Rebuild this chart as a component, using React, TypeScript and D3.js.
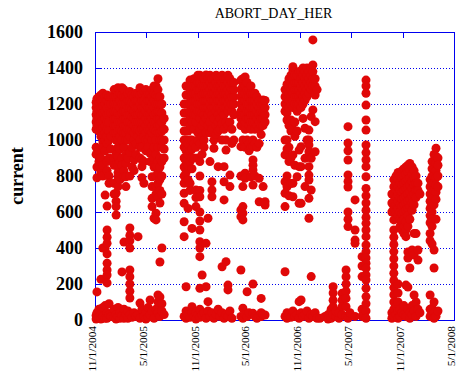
import React from "react";
import * as d3 from "d3";

// ---- data: [day offset from 11/1/2004, values...] columns ----
const run2004: [number, number[]][] = [
  [4, [1060, 1100, 1140, 1180, 1210, 960, 920, 25, 5]],
  [7, [1080, 1120, 1160, 1200, 1230, 850, 790, 156, 40, 10]],
  [14, [1050, 1090, 1130, 1170, 1210, 1240, 940, 880, 60, 15]],
  [21, [1020, 1060, 1100, 1140, 1180, 1220, 1250, 900, 820, 226, 30, 5]],
  [28, [990, 1030, 1070, 1110, 1150, 1190, 1230, 1260, 960, 860, 800, 400, 70, 20]],
  [36, [1000, 1040, 1080, 1120, 1160, 1200, 1240, 940, 694, 398, 80, 10]],
  [43, [980, 1020, 1060, 1100, 1140, 1180, 1220, 1250, 880, 830, 633, 500, 460, 426, 367, 315, 278, 250, 206, 40, 10]],
  [50, [1000, 1050, 1100, 1150, 1200, 1240, 900, 800, 760, 90, 30]],
  [57, [1150, 1200, 1240, 1020, 950, 20]],
  [68, [1040, 1080, 1120, 1160, 1200, 1240, 1280, 900, 860, 760, 700, 60, 15]],
  [75, [1000, 1040, 1080, 1120, 1160, 1200, 1240, 1280, 920, 860, 704, 660, 630, 583, 30, 5]],
  [82, [960, 1000, 1050, 1100, 1150, 1200, 1250, 1290, 907, 860, 820, 796, 741, 70, 20]],
  [89, [1020, 1060, 1100, 1140, 1180, 1220, 1260, 950, 880, 780, 10, 40]],
  [96, [1000, 1050, 1100, 1150, 1200, 1250, 1290, 900, 860, 267, 25]],
  [103, [1040, 1080, 1120, 1160, 1200, 1240, 1280, 960, 830, 796, 433, 60, 10]],
  [110, [1000, 1040, 1080, 1120, 1160, 1200, 1240, 917, 870, 796, 741, 30]],
  [117, [1060, 1100, 1140, 1180, 1220, 1260, 1000, 900, 50, 10]],
  [124, [1020, 1060, 1100, 1140, 1180, 1220, 1270, 930, 800, 511, 470, 440, 400, 278, 240, 200, 160, 122, 30]],
  [132, [1050, 1090, 1130, 1170, 1210, 1250, 960, 850, 15]],
  [139, [1000, 1040, 1080, 1120, 1160, 1200, 1240, 889, 830, 40]],
  [146, [1060, 1100, 1140, 1180, 1220, 1260, 980, 920, 20]],
  [153, [1020, 1060, 1100, 1140, 1180, 1220, 1260, 463, 30]],
  [160, [1000, 1050, 1100, 1150, 1200, 1250, 1290, 960, 900, 94, 10]],
  [167, [1060, 1100, 1140, 1180, 1220, 1260, 960, 889, 852, 790, 60]],
  [174, [1020, 1060, 1100, 1140, 1180, 1220, 1270, 880, 760, 20]],
  [181, [1040, 1080, 1120, 1160, 1200, 1240, 1280, 1000, 940, 40, 5]],
  [189, [1060, 1100, 1140, 1180, 1220, 1260, 1000, 960, 70, 15]],
  [196, [1020, 1060, 1100, 1140, 1180, 1220, 1260, 926, 880, 111, 30]],
  [203, [1000, 1040, 1080, 1120, 1160, 1200, 1240, 1280, 796, 741, 676, 630, 50]],
  [210, [1060, 1100, 1140, 1180, 1220, 1260, 1300, 960, 900, 850, 565, 10]],
  [217, [1000, 1050, 1100, 1150, 1200, 1250, 1300, 920, 860, 800, 740, 700, 593, 556, 60]],
  [224, [1040, 1080, 1120, 1160, 1200, 1240, 1280, 1340, 960, 880, 820, 760, 680, 139, 100, 40]],
  [231, [1000, 1040, 1080, 1120, 1160, 1200, 1240, 900, 850, 780, 720, 650, 322, 128, 20]],
  [238, [960, 1000, 1050, 1100, 1150, 1200, 880, 800, 700, 400, 90, 50]],
  [246, [900, 950, 1000, 1060, 1120, 30]],
];

const run2005: [number, number[]][] = [
  [317, [960, 1000, 1050, 1100, 1150, 1200, 900, 850, 800, 760, 704, 648, 546, 463, 20]],
  [324, [1000, 1050, 1100, 1150, 1200, 1250, 1300, 940, 880, 820, 185, 50, 10]],
  [331, [1050, 1100, 1150, 1200, 1250, 1300, 980, 920, 860, 780, 620, 30]],
  [338, [1080, 1120, 1160, 1200, 1240, 1280, 1333, 1000, 940, 880, 760, 720, 15]],
  [345, [1100, 1150, 1200, 1250, 1300, 1000, 950, 900, 840, 509, 74, 40]],
  [352, [1140, 1180, 1220, 1260, 1300, 1340, 1060, 980, 900, 20]],
  [359, [1100, 1140, 1180, 1220, 1260, 1300, 1340, 960, 722, 680, 630, 40, 5]],
  [366, [1160, 1200, 1240, 1280, 1320, 1360, 1040, 1000, 900, 30]],
  [373, [1120, 1160, 1200, 1240, 1280, 1320, 1360, 1060, 980, 880, 800, 720, 685, 600, 550, 500, 435, 400, 352, 176, 60, 15]],
  [381, [1150, 1200, 1250, 1300, 1350, 1080, 1020, 920, 250, 30]],
  [388, [1140, 1180, 1220, 1260, 1300, 1340, 1100, 1000, 960, 40]],
  [395, [1180, 1220, 1260, 1300, 1361, 1120, 1040, 426, 185, 10]],
  [402, [1140, 1180, 1220, 1260, 1300, 1340, 1080, 565, 102, 50]],
  [409, [1160, 1200, 1240, 1280, 1320, 1360, 1100, 1040, 880, 20]],
  [416, [1140, 1180, 1220, 1260, 1300, 1340, 1060, 768, 722, 685, 40]],
  [423, [1180, 1220, 1260, 1300, 1340, 1120, 1000, 954, 10]],
  [431, [1160, 1200, 1240, 1280, 1320, 1360, 1080, 1030, 30]],
  [438, [1140, 1180, 1220, 1260, 1300, 1340, 1100, 1050, 852, 60]],
  [445, [1180, 1220, 1260, 1300, 1340, 1120, 1060, 20]],
  [452, [1160, 1200, 1240, 1280, 1320, 1360, 1090, 1000, 296, 40]],
  [459, [1140, 1180, 1220, 1260, 1300, 1340, 1060, 852, 768, 667, 10]],
  [466, [1180, 1220, 1260, 1300, 1340, 1100, 1000, 944, 324, 30]],
  [473, [1160, 1200, 1240, 1280, 1320, 1360, 1080, 194, 167, 20]],
  [480, [1180, 1220, 1260, 1300, 1340, 1100, 805, 741, 50]],
  [487, [1160, 1200, 1240, 1280, 1320, 1060, 981, 10]],
  [494, [1200, 1240, 1280, 1320, 1140, 1000]],
  [519, [1080, 1120, 1160, 1200, 1240, 1280, 1333, 963, 800, 611, 574, 278, 20]],
  [526, [1100, 1140, 1180, 1220, 1260, 1300, 1340, 1000, 741, 630, 593, 556, 65, 10]],
  [534, [1060, 1100, 1140, 1180, 1220, 1260, 1300, 1350, 960, 815, 787, 30]],
  [541, [1120, 1160, 1200, 1240, 1280, 1320, 1000, 157, 19]],
  [548, [1080, 1120, 1160, 1200, 1240, 1280, 980, 940, 40]],
  [555, [1060, 1100, 1140, 1180, 1220, 1260, 1300, 960, 796]],
  [562, [1100, 1140, 1180, 1220, 1260, 1000, 963, 889, 860, 833, 750, 200, 37]],
  [569, [1060, 1100, 1140, 1180, 1220, 1260, 980, 800, 20]],
  [576, [1080, 1120, 1160, 1200, 1240, 960, 10]],
  [584, [1100, 1140, 1180, 1220, 1060, 980, 787, 657]],
  [591, [1080, 1120, 1160, 1200, 1030, 120, 19, 40]],
  [598, [1120, 1160, 1200, 1222, 1080, 741, 30]],
  [605, [1140, 1180, 1220, 1100, 657, 639, 28]],
];

const run2006: [number, number[]][] = [
  [676, [1160, 1200, 1240, 1280, 1000, 917, 768, 704, 630, 268, 20]],
  [683, [1150, 1190, 1230, 1270, 1310, 1111, 1000, 950, 800, 740, 40, 10]],
  [690, [1180, 1220, 1260, 1300, 1340, 1080, 960, 880, 690, 30]],
  [697, [1200, 1240, 1280, 1320, 1360, 1111, 1050, 900, 759, 15]],
  [704, [1180, 1220, 1260, 1300, 1340, 1389, 1407, 1060, 917, 760, 685, 50]],
  [711, [1200, 1240, 1280, 1320, 1360, 1100, 1020, 860, 20]],
  [719, [1160, 1200, 1240, 1280, 1320, 1360, 1050, 796, 30]],
  [726, [1200, 1240, 1280, 1320, 1380, 944, 852, 648, 102, 10]],
  [733, [1180, 1220, 1260, 1300, 1340, 1380, 963, 852, 648, 111, 40]],
  [740, [1200, 1240, 1280, 1320, 1360, 1400, 1120, 20]],
  [747, [1220, 1260, 1300, 1340, 1380, 1065, 898, 741, 30]],
  [754, [1240, 1280, 1320, 1360, 1400, 1000, 50]],
  [761, [1260, 1300, 1340, 1380, 1055, 1000, 972, 935, 852, 805, 778, 676, 565, 10]],
  [769, [1280, 1320, 1360, 1400, 1130, 898, 722, 241, 30]],
  [775, [1300, 1340, 1380, 1417, 1556, 1167, 20]],
  [783, [1250, 1300, 1340, 1102, 935, 40]],
  [790, [1280, 10]],
];

const run2007a: [number, number[]][] = [
  [800, [10]],
  [818, [20]],
  [829, [30, 5]],
  [840, [10, 60]],
  [847, [185, 150, 110, 74, 30]],
  [857, [20, 50]],
  [868, [10, 40]],
  [879, [148, 110, 74, 30]],
  [893, [278, 240, 200, 160, 120, 74, 20]],
  [900, [1074, 983, 940, 889, 806, 770, 739, 600, 560, 519, 10]],
  [907, [40]],
  [925, [667, 500, 444, 426, 20]],
  [950, [352, 300, 241, 60, 20]],
  [964, [1333, 1300, 1260, 1194, 1111, 1055, 972, 930, 890, 852, 796, 731, 690, 650, 610, 570, 537, 500, 463, 417, 380, 345, 315, 287, 250, 222, 176, 130, 90, 50, 10]],
];

const run2007b: [number, number[]][] = [
  [1056, [700, 650, 600, 40, 10]],
  [1063, [780, 740, 700, 660, 620, 556, 500, 460, 420, 380, 340, 300, 260, 220, 180, 140, 100, 60, 20]],
  [1071, [800, 760, 720, 680, 640, 600, 80, 30]],
  [1078, [820, 780, 740, 700, 660, 620, 580, 200, 150, 100, 50, 10]],
  [1085, [800, 760, 720, 680, 640, 600, 560, 520, 60, 20]],
  [1092, [830, 790, 750, 710, 670, 630, 590, 550, 500, 40]],
  [1099, [840, 800, 760, 720, 680, 640, 600, 560, 520, 480, 80, 30]],
  [1106, [850, 810, 770, 730, 690, 650, 610, 546, 500, 463, 194, 20]],
  [1113, [860, 820, 780, 740, 700, 660, 620, 580, 520, 378, 344, 183, 60]],
  [1120, [870, 830, 790, 750, 710, 670, 630, 560, 289, 40, 10]],
  [1128, [850, 810, 770, 730, 690, 650, 610, 389, 80, 30]],
  [1135, [830, 790, 750, 700, 640, 481, 361, 139, 50]],
  [1142, [800, 760, 720, 680, 480, 100, 20]],
  [1149, [760, 720, 389, 333, 60]],
  [1156, [700, 40]],
  [1192, [780, 740, 700, 660, 620, 580, 540, 481, 440, 139, 60, 20]],
  [1199, [880, 840, 800, 760, 720, 680, 640, 600, 560, 520, 422, 65, 30]],
  [1206, [920, 880, 840, 800, 760, 720, 680, 640, 389, 289, 100, 40, 10]],
  [1213, [954, 910, 870, 830, 790, 750, 710, 670, 560, 20]],
  [1220, [900, 860, 800, 740, 50]],
];

const xTickLabels = ["11/1/2004", "5/1/2005", "11/1/2005", "5/1/2006", "11/1/2006", "5/1/2007", "11/1/2007", "5/1/2008"];
const yTicks = [0, 200, 400, 600, 800, 1000, 1200, 1400, 1600];
const title = "ABORT_DAY_HER";
const yLabel = "current";

const W = 462, H = 379;
const L = 95, R = 454, T = 32, B = 320;
const BLUE = "#0000f0";
const RED = "#e00808";
const FONT = "Liberation Serif, Times, serif";

const parseTick = d3.timeParse("%m/%d/%Y");
const start = new Date(2004, 10, 1);

export default function App() {
  const x = d3.scaleTime().domain([start, new Date(2008, 4, 1)]).range([L, R]);
  const y = d3.scaleLinear().domain([0, 1600]).range([B, T]);
  const allRuns = [run2004, run2005, run2006, run2007a, run2007b];
  const pts: { d: Date; v: number }[] = [];
  allRuns.forEach((run) =>
    run.forEach(([day, vals]) => {
      const date = d3.timeDay.offset(start, day);
      vals.forEach((v) => pts.push({ d: date, v }));
    })
  );
  const tickDates = xTickLabels.map((s) => parseTick(s) as Date);

  return (
    <svg width={W} height={H} style={{ position: "absolute", left: 0, top: 0, background: "#fff" }}>
      <text x={273.5} y={18} textAnchor="middle" style={{ fontFamily: FONT }} fontSize={14}>
        {title}
      </text>
      {yTicks.slice(1, -1).map((t) => (
        <line key={"g" + t} x1={L} x2={R} y1={Math.round(y(t)) + 0.5} y2={Math.round(y(t)) + 0.5}
          stroke={BLUE} strokeWidth={1} strokeDasharray="1,2" />
      ))}
      {yTicks.map((t) => (
        <line key={"lt" + t} x1={L} x2={L + 7} y1={Math.round(y(t)) + 0.5} y2={Math.round(y(t)) + 0.5}
          stroke={BLUE} strokeWidth={1} />
      ))}
      {tickDates.map((d, i) => (
        <line key={"tt" + i} x1={Math.round(x(d)) + 0.5} x2={Math.round(x(d)) + 0.5} y1={T} y2={T + 6}
          stroke={BLUE} strokeWidth={1} />
      ))}
      <rect x={L + 0.5} y={T + 0.5} width={R - L} height={B - T} fill="none" stroke={BLUE} strokeWidth={1} />
      {yTicks.map((t) => (
        <text key={"yl" + t} x={83} y={y(t)} dy="0.36em" textAnchor="end" style={{ fontFamily: FONT }}
          fontSize={18} fontWeight="bold">
          {t}
        </text>
      ))}
      <text transform={`translate(23,176) rotate(-90)`} textAnchor="middle" style={{ fontFamily: FONT }}
        fontSize={18} fontWeight="bold">
        {yLabel}
      </text>
      {tickDates.map((d, i) => (
        <text key={"xl" + i} transform={`translate(${x(d) + 1},326) rotate(-90)`} textAnchor="end"
          style={{ fontFamily: FONT }} fontSize={11.3}>
          {xTickLabels[i]}
        </text>
      ))}
      <g>
        {pts.map((p, i) => (
          <circle key={i} cx={x(p.d)} cy={y(p.v)} r={4.5} fill={RED} />
        ))}
      </g>
    </svg>
  );
}
